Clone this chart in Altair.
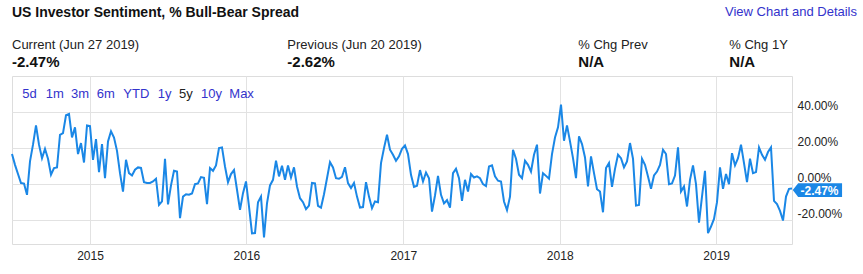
import altair as alt
import pandas as pd

# ---------------- data ----------------
start_date = "2014-07-03"   # weekly (Thursday) readings through Jun 27 2019
spread = [
    16.7, 10.7, 5.6, 0.6, 0.3, -5.9, 12.6, 21.9, 32.6, 21.9,
    14.4, 19.6, 14.1, 5.2, 8.9, 9.3, 27.4, 28.3, 38.2, 38.9,
    25.9, 31.5, 16.7, 22.8, 12.0, 32.6, 32.2, 13.5, 25.0, 6.7,
    22.2, 3.3, 23.7, 29.3, 25.9, 18.5, 6.1, -4.1, 13.5, 6.1,
    4.8, 8.0, 9.3, 9.0, 1.1, 0.6, 0.7, 1.5, 3.0, -11.5,
    -9.6, 14.1, -11.2, -0.7, 7.4, 7.0, -18.9, -6.9, -5.6, -5.9,
    -5.2, 0.0, 0.4, 3.9, 3.5, -11.1, 8.9, 7.4, 10.4, 20.0,
    20.4, 9.8, 1.1, 5.6, 7.8, -3.1, -14.3, -5.0, 1.5, -12.4,
    -27.3, -27.1, -10.0, -6.9, -29.5, -10.6, -0.7, 2.4, 13.0, 4.3,
    10.2, 2.4, 10.4, 3.7, 9.3, -1.3, -7.8, -10.0, -13.9, -11.9,
    0.7, 0.4, -12.0, -13.0, -5.6, 3.3, 12.2, 9.3, 3.3, 3.0,
    4.1, 9.4, 0.6, -2.2, 0.7, -6.9, -13.0, -12.7, 1.1, -6.9,
    -13.3, -9.6, -10.0, 11.7, 20.0, 27.4, 19.1, 16.3, 13.0, 15.4,
    19.6, 21.5, 16.7, 5.2, -1.5, -0.9, 7.8, 1.5, 6.5, 3.3,
    -15.2, -6.3, 4.6, -5.9, -10.7, -8.9, -13.0, 6.1, 8.5, 3.3,
    -9.3, 2.4, -4.1, 5.6, 3.7, 4.3, 3.3, 0.0, -1.1, 9.8,
    10.4, 4.4, 1.9, 1.5, -9.6, -14.4, -6.9, 19.1, 14.1, 5.2,
    3.3, 13.0, 10.7, 7.0, 16.3, 21.9, -5.2, 6.1, 4.6, 3.0,
    16.7, 25.9, 31.5, 44.1, 24.1, 32.6, 23.7, 14.4, 3.3, 26.5,
    22.2, 14.8, -1.3, 15.4, 6.1, -2.8, -4.1, -15.6, 8.9, 11.7,
    -1.5, 8.5, 16.3, 14.4, 9.3, 12.6, 22.8, 14.1, -11.9, -11.5,
    14.1, 10.7, 4.3, -2.6, 4.8, 7.0, 10.7, 19.1, 16.7, 0.0,
    0.4, 4.8, 20.4, -4.1, -1.3, -12.4, 2.4, 10.4, 0.0, -21.3,
    -6.9, 7.4, -27.2, -23.5, -19.3, -10.0, 9.3, -2.6, 5.6, 0.0,
    17.2, 10.4, 14.4, 21.9, 11.7, 1.1, 14.1, 6.1, 6.7, 20.4,
    16.3, 13.5, 17.8, 20.4, -9.3, -11.1, -14.8, -20.2, -6.9, -2.62,
    -2.47,
]
y_ticks = [-20, 0, 20, 40]
y_domain = [-33.2, 60]

title_text = "US Investor Sentiment, % Bull-Bear Spread"
link_text = "View Chart and Details"
stat_labels = ["Current (Jun 27 2019)", "Previous (Jun 20 2019)", "% Chg Prev", "% Chg 1Y"]
stat_values = ["-2.47%", "-2.62%", "N/A", "N/A"]
range_labels = ["5d", "1m", "3m", "6m", "YTD", "1y", "5y", "10y", "Max"]
current_label = "-2.47%"

# ---------------- layout (pixels) ----------------
W, H = 780, 168
PAD_L, PAD_T = 12, 76
LINE = "#1a87e6"
LINK = "#3333cc"
FONT = "Liberation Sans"

dates = pd.date_range(start_date, periods=len(spread), freq="7D").strftime("%Y-%m-%d").tolist()
df = pd.DataFrame({"date": dates, "spread": spread})

x_enc = alt.X(
    "date:T",
    scale=alt.Scale(type="utc", nice=False),
    axis=alt.Axis(
        title=None, format="%Y", tickCount={"interval": "year", "step": 1},
        grid=True, gridColor="#e2e2e2", ticks=False, tickSize=0, domain=False,
        labelPadding=6, labelFontSize=12, labelColor="#222222", labelFont=FONT,
    ),
)
y_enc = alt.Y(
    "spread:Q",
    scale=alt.Scale(domain=y_domain, nice=False, zero=False),
    axis=alt.Axis(
        title=None, orient="right", values=y_ticks,
        labelExpr="(datum.value < 0 ? '-' : '') + format(abs(datum.value), '.2f') + '%'",
        grid=True, gridColor="#e2e2e2", ticks=False, tickSize=0, domain=False,
        labelPadding=5, labelFontSize=12, labelColor="#222222", labelFont=FONT,
        labelBaseline="alphabetic", labelOffset=-2.5,
    ),
)

line = alt.Chart(df).mark_line(color=LINE, strokeWidth=2).encode(x=x_enc, y=y_enc)

# range buttons inside plot
range_x = [10.3, 33.7, 59, 84.7, 111.3, 145.7, 167, 189, 217.3]
range_color = [LINK if t != "5y" else "#222222" for t in range_labels]
rdf = pd.DataFrame({"t": range_labels, "px": range_x, "c": range_color})
ranges = alt.Chart(rdf).mark_text(
    align="left", baseline="alphabetic", fontSize=13, font=FONT
).encode(
    x=alt.X("px:Q", scale=None), y=alt.value(21.5), text="t:N",
    color=alt.Color("c:N", scale=None),
)

# header
title = alt.Chart(pd.DataFrame({"t": [title_text]})).mark_text(
    align="left", baseline="alphabetic", fontSize=14, fontWeight="bold", font=FONT, color="#111111"
).encode(x=alt.value(0), y=alt.value(-59), text="t:N")

link = alt.Chart(pd.DataFrame({"t": [link_text]})).mark_text(
    align="right", baseline="alphabetic", fontSize=13, font=FONT, color=LINK
).encode(x=alt.value(845), y=alt.value(-60), text="t:N")

stat_x = [0, 275.3, 566.3, 717.3]
sdf = pd.DataFrame({"lab": stat_labels, "val": stat_values, "px": stat_x})
stat_lab = alt.Chart(sdf).mark_text(
    align="left", baseline="alphabetic", fontSize=13, font=FONT, color="#222222"
).encode(x=alt.X("px:Q", scale=None), y=alt.value(-27), text="lab:N")
stat_val = alt.Chart(sdf).mark_text(
    align="left", baseline="alphabetic", fontSize=15, fontWeight="bold", font=FONT, color="#111111"
).encode(x=alt.X("px:Q", scale=None), y=alt.value(-9.5), text="val:N")

# current-value tag on the right
last = df.tail(1).assign(lab=current_label)
tag_shape = "M-1,0L-0.78,-0.28L1,-0.28L1,0.28L-0.78,0.28Z"
tag = alt.Chart(last).mark_point(
    shape=tag_shape, filled=True, fill=LINE, color=LINE, opacity=1, size=2430, strokeWidth=0
).encode(x=alt.value(805.4), y=alt.Y("spread:Q"), yOffset=alt.value(1.5))
tag_text = alt.Chart(last).mark_text(
    align="center", baseline="middle", fontSize=12, fontWeight="bold", font=FONT, color="white", dy=2
).encode(x=alt.value(807.5), y=alt.Y("spread:Q"), text="lab:N")

chart = alt.layer(line, ranges, title, link, stat_lab, stat_val, tag, tag_text).properties(
    width=W, height=H,
    autosize=alt.AutoSizeParams(type="none"),
    padding={"left": PAD_L, "top": PAD_T, "right": 863 - PAD_L - W, "bottom": 274 - PAD_T - H},
    background="white",
).configure_view(
    fill="#f7f7f7", stroke="#8a8a8a", strokeWidth=1
).configure(font=FONT)

chart.save("out.html", embed_options={"renderer": "svg", "actions": False})
